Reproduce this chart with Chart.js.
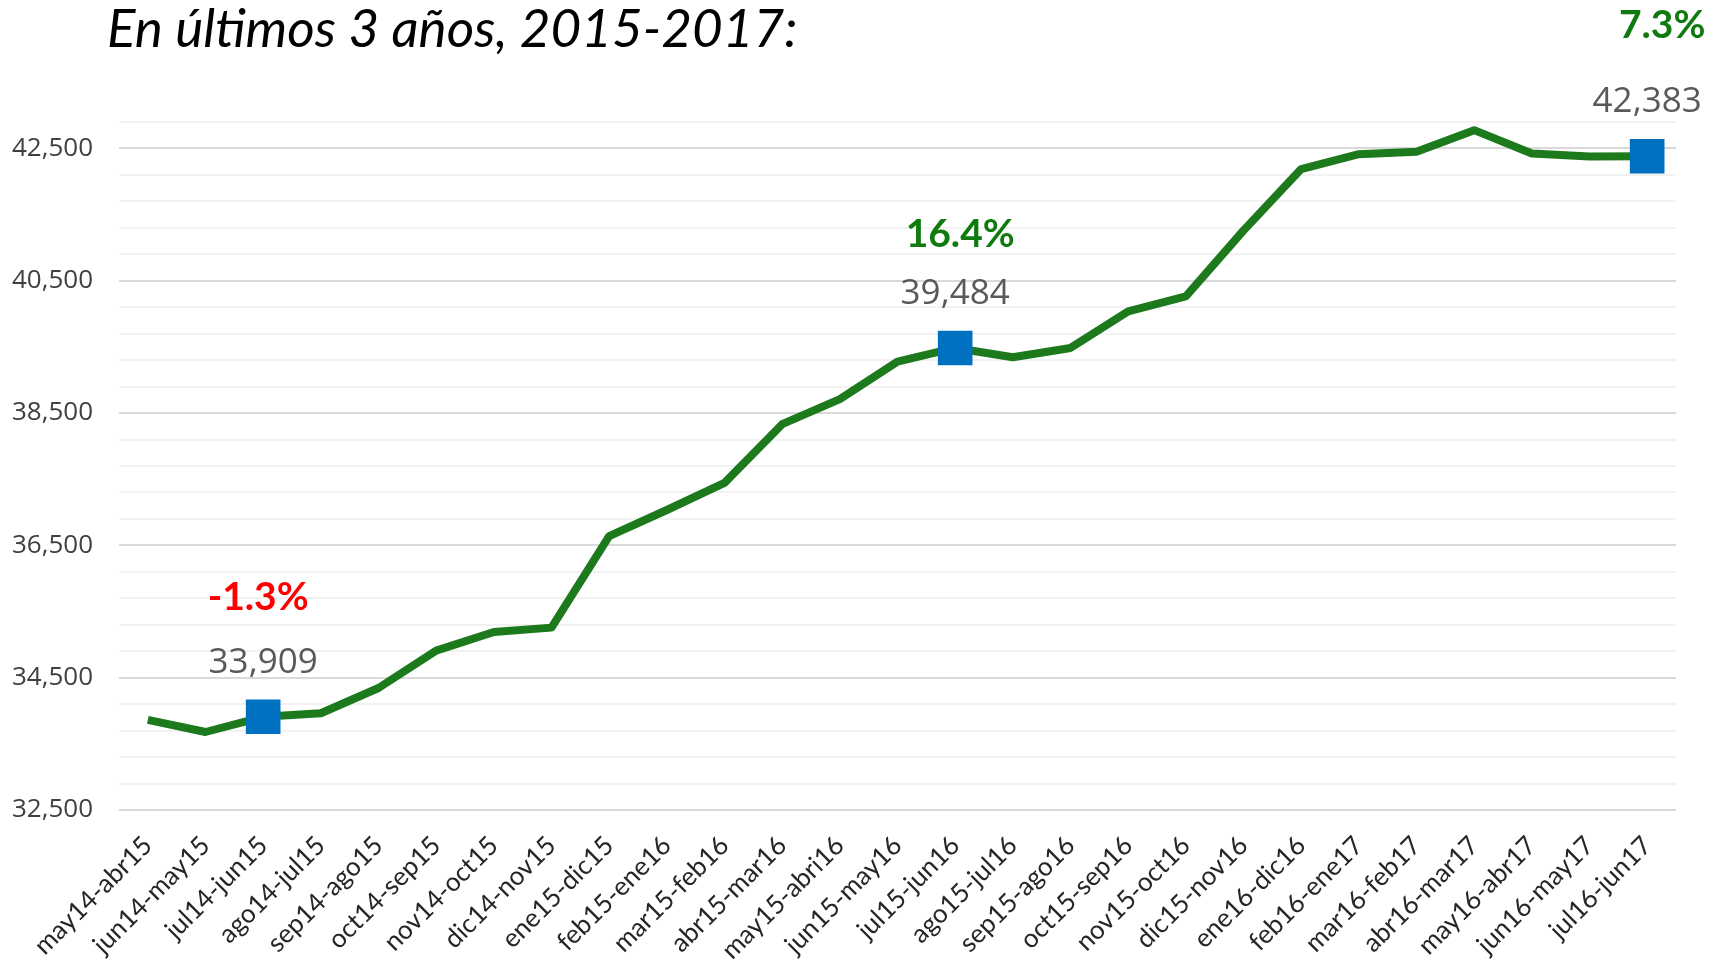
<!DOCTYPE html>
<html><head><meta charset="utf-8">
<script src="https://cdn.jsdelivr.net/npm/chart.js@4"></script>
<style>html,body{margin:0;padding:0;background:#fff}#wrap{width:1723px;height:964px;position:relative}</style>
</head><body><div id="wrap"><canvas id="c" width="1723" height="964"></canvas></div>
<script>
const titleText = 'En últimos 3 años, 2015-2017:';
const categories = ['may14-abr15','jun14-may15','jul14-jun15','ago14-jul15','sep14-ago15','oct14-sep15','nov14-oct15','dic14-nov15','ene15-dic15','feb15-ene16','mar15-feb16','abr15-mar16','may15-abri16','jun15-may16','jul15-jun16','ago15-jul16','sep15-ago16','oct15-sep16','nov15-oct16','dic15-nov16','ene16-dic16','feb16-ene17','mar16-feb17','abr16-mar17','may16-abr17','jun16-may17','jul16-jun17'];
const values = [33862,33679,33909,33962,34344,34909,35191,35257,36640,37035,37445,38332,38710,39277,39484,39344,39484,40037,40264,41260,42188,42414,42450,42777,42425,42379,42383];
const highlightIdx = [2,14,26];
const changeLabels = ['-1.3%','16.4%','7.3%'];
const changeColors = ['#FF0000','#0F7B0F','#0F7B0F'];
const yMin = 32500, yMax = 42900, yMinorStep = 400, yMajorStep = 2000;

// label nudges (style only, pixels relative to the marker)
const pctNudge = [[-5, -119], [5, -114], [15, -131]];

const fmt = v => v.toLocaleString('en-US');

const annotPlugin = {
  id: 'annot',
  afterDraw(chart) {
    const ctx = chart.ctx;
    const xs = chart.scales.x, ys = chart.scales.y;
    ctx.save();
    ctx.fillStyle = '#000';
    ctx.font = 'italic 53px Lato';
    ctx.textAlign = 'left';
    ctx.textBaseline = 'alphabetic';
    ctx.fillText(titleText, 107, 47);
    highlightIdx.forEach((idx, k) => {
      const x = xs.getPixelForValue(idx);
      const y = ys.getPixelForValue(values[idx]);
      ctx.textAlign = 'center';
      ctx.textBaseline = 'middle';
      ctx.font = '35px "Open Sans"';
      ctx.fillStyle = '#595959';
      ctx.fillText(fmt(values[idx]), x, y - 54);
      ctx.font = 'bold 39px Lato';
      ctx.fillStyle = changeColors[k];
      ctx.fillText(changeLabels[k], x + pctNudge[k][0], y + pctNudge[k][1]);
    });
    ctx.restore();
  }
};

new Chart(document.getElementById('c'), {
  type: 'line',
  data: {
    labels: categories,
    datasets: [{
      data: values,
      borderColor: '#1C7A1C',
      borderWidth: 8,
      tension: 0,
      fill: false,
      borderJoinStyle: 'round',
      pointStyle: 'rect',
      pointRadius: ctx => highlightIdx.includes(ctx.dataIndex) ? 24.5 : 0,
      pointHoverRadius: ctx => highlightIdx.includes(ctx.dataIndex) ? 24.5 : 0,
      pointBackgroundColor: '#0070C0',
      pointBorderColor: '#0070C0',
      pointBorderWidth: 0
    }]
  },
  options: {
    responsive: false,
    animation: false,
    events: [],
    layout: { padding: { left: 0, right: 47, top: 122, bottom: 0 } },
    plugins: { legend: { display: false }, tooltip: { enabled: false }, title: { display: false } },
    scales: {
      x: {
        offset: true,
        grid: { display: false, drawTicks: false },
        border: { display: false },
        ticks: {
          autoSkip: false, minRotation: 45, maxRotation: 45, padding: 20,
          color: '#262626', font: { family: 'Lato', size: 26 }
        },
        afterFit(scale) { scale.height = 154; }
      },
      y: {
        min: yMin, max: yMax,
        border: { display: false },
        grid: {
          drawTicks: false,
          lineWidth: 2,
          color: ctx => ((ctx.tick && (ctx.tick.value - yMin) % yMajorStep === 0) ? '#D9D9D9' : '#F2F2F2')
        },
        ticks: {
          stepSize: yMinorStep, autoSkip: false, padding: 26,
          color: '#404040', font: { family: 'Open Sans', size: 26 },
          callback: v => ((v - yMin) % yMajorStep === 0 ? fmt(v) : '')
        },
        afterFit(scale) { scale.width = 119; }
      }
    }
  },
  plugins: [annotPlugin]
});
</script></body></html>
